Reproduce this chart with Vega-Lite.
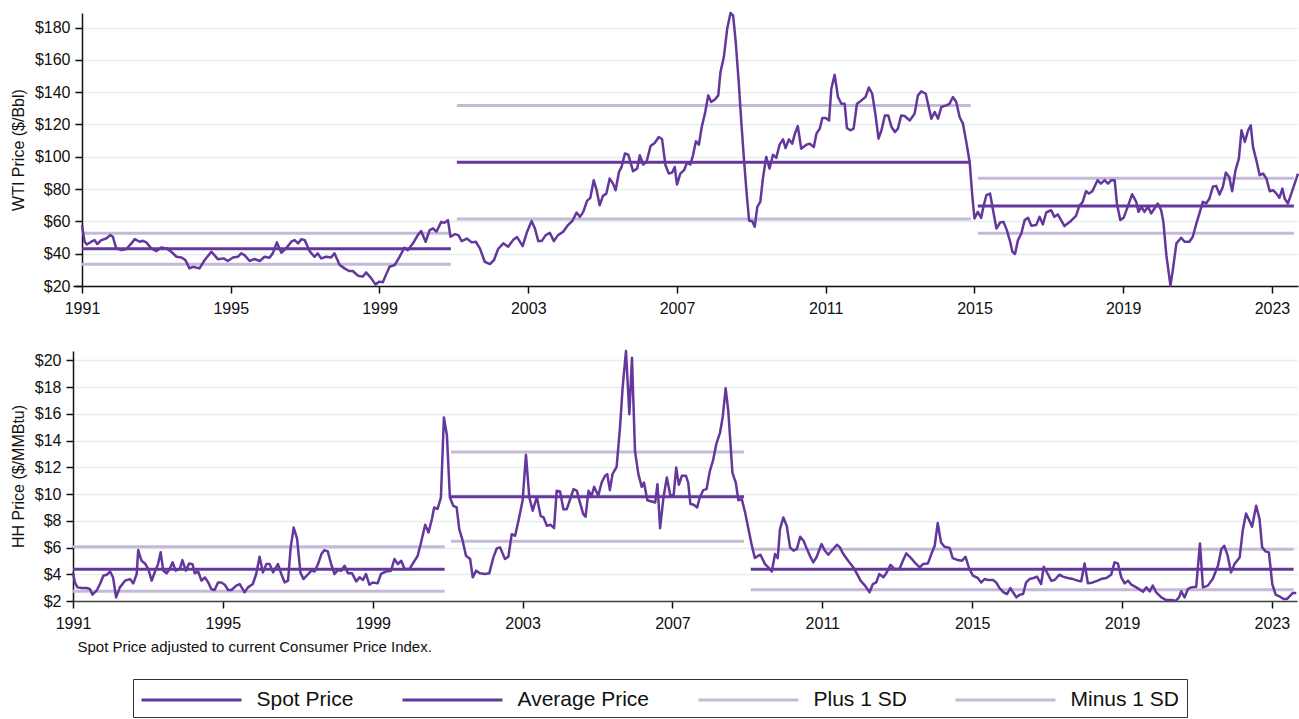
{
  "$schema": "https://vega.github.io/schema/vega-lite/v6.json",
  "padding": {"left": 10, "top": 11, "right": 1, "bottom": 0},
  "background": "white",
  "spacing": 33,
  "config": {
    "font": "Liberation Sans",
    "view": {"stroke": null},
    "axis": {"labelFont": "Liberation Sans", "titleFont": "Liberation Sans", "labelFontSize": 16, "titleFontSize": 16, "titleFontWeight": "normal", "labelColor": "#111", "titleColor": "#111", "tickColor": "#111", "domainColor": "#111", "tickSize": 7, "tickWidth": 1.5, "domainWidth": 1.5, "labelOverlap": false},
    "axisY": {"gridColor": "#e3eeee", "gridWidth": 1.5, "labelPadding": 5},
    "axisX": {"grid": false, "labelPadding": 7, "labelFlush": false},
    "legend": {"orient": "none", "legendX": 60, "legendY": 666, "direction": "horizontal", "columns": 4, "symbolType": "M-4,0H4", "symbolSize": 625, "symbolStrokeWidth": 3, "symbolOffset": 37.5, "labelOffset": 51, "columnPadding": 42, "labelFontSize": 21, "labelFont": "Liberation Sans", "labelColor": "#111", "padding": 7, "strokeColor": "#333", "title": null}
  },
  "datasets": {
    "stats": [
      {"p":"WTI","s":"Average Price","t0":1991.0,"t1":2000.92,"v":43.1},
      {"p":"WTI","s":"Plus 1 SD","t0":1991.0,"t1":2000.92,"v":52.7},
      {"p":"WTI","s":"Minus 1 SD","t0":1991.0,"t1":2000.92,"v":33.5},
      {"p":"WTI","s":"Average Price","t0":2001.08,"t1":2014.9,"v":96.6},
      {"p":"WTI","s":"Plus 1 SD","t0":2001.08,"t1":2014.9,"v":131.8},
      {"p":"WTI","s":"Minus 1 SD","t0":2001.08,"t1":2014.9,"v":61.4},
      {"p":"WTI","s":"Average Price","t0":2015.09,"t1":2023.59,"v":69.6},
      {"p":"WTI","s":"Plus 1 SD","t0":2015.09,"t1":2023.59,"v":86.7},
      {"p":"WTI","s":"Minus 1 SD","t0":2015.09,"t1":2023.59,"v":52.7},
      {"p":"HH","s":"Average Price","t0":1991.0,"t1":2000.92,"v":4.37},
      {"p":"HH","s":"Plus 1 SD","t0":1991.0,"t1":2000.92,"v":6.06},
      {"p":"HH","s":"Minus 1 SD","t0":1991.0,"t1":2000.92,"v":2.72},
      {"p":"HH","s":"Average Price","t0":2001.09,"t1":2008.91,"v":9.79},
      {"p":"HH","s":"Plus 1 SD","t0":2001.09,"t1":2008.91,"v":13.15},
      {"p":"HH","s":"Minus 1 SD","t0":2001.09,"t1":2008.91,"v":6.46},
      {"p":"HH","s":"Average Price","t0":2009.09,"t1":2023.58,"v":4.37},
      {"p":"HH","s":"Plus 1 SD","t0":2009.09,"t1":2023.58,"v":5.88},
      {"p":"HH","s":"Minus 1 SD","t0":2009.09,"t1":2023.58,"v":2.84}
    ],
    "wti": [
      {"t":1991.00,"v":57.7},{"t":1991.07,"v":47.4},{"t":1991.13,"v":45.7},{"t":1991.25,"v":47.4},{"t":1991.34,"v":48.4},{"t":1991.41,"v":46.0},{"t":1991.52,"v":48.4},{"t":1991.65,"v":49.4},{"t":1991.76,"v":51.5},{"t":1991.83,"v":50.5},{"t":1991.92,"v":43.3},
      {"t":1992.06,"v":42.2},{"t":1992.19,"v":42.9},{"t":1992.33,"v":46.4},{"t":1992.42,"v":49.0},{"t":1992.55,"v":47.4},{"t":1992.64,"v":48.0},{"t":1992.73,"v":47.0},{"t":1992.86,"v":43.3},
      {"t":1993.00,"v":41.6},{"t":1993.13,"v":43.9},{"t":1993.27,"v":43.3},{"t":1993.40,"v":41.2},{"t":1993.54,"v":38.1},{"t":1993.67,"v":37.7},{"t":1993.78,"v":36.1},{"t":1993.89,"v":30.9},{"t":1993.98,"v":31.9},
      {"t":1994.16,"v":30.9},{"t":1994.30,"v":36.1},{"t":1994.48,"v":41.2},{"t":1994.66,"v":36.5},{"t":1994.81,"v":37.1},{"t":1994.92,"v":35.5},
      {"t":1995.06,"v":37.7},{"t":1995.19,"v":38.1},{"t":1995.28,"v":40.2},{"t":1995.37,"v":39.1},{"t":1995.51,"v":35.5},{"t":1995.64,"v":36.7},{"t":1995.78,"v":35.5},{"t":1995.91,"v":38.1},
      {"t":1996.04,"v":37.5},{"t":1996.13,"v":40.2},{"t":1996.24,"v":47.0},{"t":1996.36,"v":40.6},{"t":1996.49,"v":43.3},{"t":1996.63,"v":47.4},{"t":1996.72,"v":48.4},{"t":1996.81,"v":46.4},{"t":1996.90,"v":49.0},{"t":1996.99,"v":48.4},
      {"t":1997.12,"v":41.6},{"t":1997.25,"v":38.1},{"t":1997.34,"v":40.2},{"t":1997.43,"v":37.1},{"t":1997.57,"v":38.1},{"t":1997.70,"v":37.7},{"t":1997.79,"v":40.2},{"t":1997.93,"v":33.0},
      {"t":1998.06,"v":30.9},{"t":1998.18,"v":29.3},{"t":1998.28,"v":29.3},{"t":1998.42,"v":26.4},{"t":1998.55,"v":25.8},{"t":1998.64,"v":28.4},{"t":1998.78,"v":24.7},{"t":1998.89,"v":21.0},
      {"t":1999.00,"v":22.7},{"t":1999.09,"v":22.3},{"t":1999.18,"v":27.2},{"t":1999.27,"v":31.9},{"t":1999.41,"v":33.0},{"t":1999.54,"v":38.1},{"t":1999.67,"v":43.7},{"t":1999.76,"v":42.2},{"t":1999.90,"v":46.4},
      {"t":2000.03,"v":51.5},{"t":2000.12,"v":54.0},{"t":2000.24,"v":47.4},{"t":2000.35,"v":54.6},{"t":2000.44,"v":55.6},{"t":2000.53,"v":53.6},{"t":2000.66,"v":59.7},{"t":2000.75,"v":59.1},{"t":2000.84,"v":60.8},{"t":2000.91,"v":50.5},
      {"t":2001.03,"v":52.1},{"t":2001.12,"v":51.5},{"t":2001.21,"v":47.8},{"t":2001.35,"v":49.4},{"t":2001.48,"v":47.0},{"t":2001.59,"v":47.4},{"t":2001.70,"v":43.3},{"t":2001.83,"v":35.0},{"t":2001.97,"v":33.6},
      {"t":2002.08,"v":36.1},{"t":2002.19,"v":42.9},{"t":2002.33,"v":46.4},{"t":2002.46,"v":44.3},{"t":2002.59,"v":48.4},{"t":2002.70,"v":50.3},{"t":2002.85,"v":44.7},{"t":2002.97,"v":53.6},
      {"t":2003.09,"v":60.2},{"t":2003.18,"v":55.6},{"t":2003.27,"v":47.8},{"t":2003.36,"v":47.8},{"t":2003.47,"v":51.5},{"t":2003.58,"v":52.9},{"t":2003.69,"v":47.8},{"t":2003.80,"v":51.5},{"t":2003.94,"v":53.6},
      {"t":2004.07,"v":57.7},{"t":2004.19,"v":60.4},{"t":2004.30,"v":65.5},{"t":2004.39,"v":62.8},{"t":2004.48,"v":65.9},{"t":2004.58,"v":72.7},{"t":2004.67,"v":74.6},{"t":2004.76,"v":85.5},{"t":2004.84,"v":79.3},{"t":2004.92,"v":70.0},
      {"t":2005.01,"v":75.8},{"t":2005.10,"v":77.2},{"t":2005.19,"v":86.5},{"t":2005.28,"v":83.4},{"t":2005.35,"v":79.3},{"t":2005.44,"v":90.6},{"t":2005.51,"v":93.7},{"t":2005.60,"v":102.0},{"t":2005.69,"v":101.3},{"t":2005.82,"v":91.0},{"t":2005.93,"v":92.7},
      {"t":2006.00,"v":100.9},{"t":2006.09,"v":95.2},{"t":2006.18,"v":96.8},{"t":2006.29,"v":106.7},{"t":2006.40,"v":108.5},{"t":2006.51,"v":112.2},{"t":2006.60,"v":110.8},{"t":2006.69,"v":94.7},{"t":2006.78,"v":89.6},{"t":2006.87,"v":90.2},{"t":2006.94,"v":93.7},
      {"t":2007.00,"v":82.8},{"t":2007.09,"v":89.6},{"t":2007.19,"v":91.7},{"t":2007.27,"v":96.4},{"t":2007.36,"v":95.2},{"t":2007.43,"v":100.9},{"t":2007.51,"v":109.6},{"t":2007.59,"v":107.5},{"t":2007.66,"v":117.8},{"t":2007.76,"v":127.7},{"t":2007.84,"v":138.0},{"t":2007.92,"v":133.9},
      {"t":2008.02,"v":135.5},{"t":2008.11,"v":138.0},{"t":2008.17,"v":152.4},{"t":2008.26,"v":161.7},{"t":2008.35,"v":179.2},{"t":2008.44,"v":189.0},{"t":2008.51,"v":187.4},{"t":2008.58,"v":170.9},{"t":2008.66,"v":146.2},{"t":2008.73,"v":121.5},{"t":2008.80,"v":98.9},{"t":2008.87,"v":78.3},{"t":2008.94,"v":60.4},
      {"t":2009.02,"v":60.2},{"t":2009.09,"v":56.7},{"t":2009.16,"v":69.0},{"t":2009.24,"v":72.1},{"t":2009.31,"v":86.5},{"t":2009.40,"v":99.9},{"t":2009.49,"v":92.7},{"t":2009.58,"v":101.3},{"t":2009.67,"v":99.3},{"t":2009.76,"v":107.5},{"t":2009.85,"v":110.8},{"t":2009.92,"v":105.4},
      {"t":2010.01,"v":110.8},{"t":2010.10,"v":108.1},{"t":2010.17,"v":114.3},{"t":2010.25,"v":119.0},{"t":2010.34,"v":105.0},{"t":2010.48,"v":107.5},{"t":2010.57,"v":108.1},{"t":2010.68,"v":106.1},{"t":2010.75,"v":114.3},{"t":2010.84,"v":117.4},{"t":2010.91,"v":124.0},
      {"t":2011.00,"v":124.0},{"t":2011.09,"v":122.5},{"t":2011.15,"v":142.1},{"t":2011.24,"v":150.7},{"t":2011.33,"v":137.0},{"t":2011.42,"v":132.8},{"t":2011.51,"v":132.8},{"t":2011.57,"v":117.8},{"t":2011.66,"v":116.4},{"t":2011.75,"v":117.4},{"t":2011.84,"v":132.8},{"t":2011.96,"v":134.9},
      {"t":2012.07,"v":137.0},{"t":2012.16,"v":142.9},{"t":2012.25,"v":139.0},{"t":2012.34,"v":125.6},{"t":2012.42,"v":111.2},{"t":2012.50,"v":116.4},{"t":2012.59,"v":125.6},{"t":2012.68,"v":125.6},{"t":2012.77,"v":118.4},{"t":2012.86,"v":115.3},{"t":2012.94,"v":117.4},
      {"t":2013.03,"v":125.6},{"t":2013.12,"v":125.2},{"t":2013.26,"v":122.5},{"t":2013.39,"v":126.7},{"t":2013.48,"v":138.0},{"t":2013.57,"v":140.5},{"t":2013.69,"v":139.0},{"t":2013.84,"v":123.6},{"t":2013.93,"v":127.7},
      {"t":2014.02,"v":123.6},{"t":2014.11,"v":130.8},{"t":2014.24,"v":131.8},{"t":2014.33,"v":132.8},{"t":2014.42,"v":137.0},{"t":2014.51,"v":133.9},{"t":2014.60,"v":124.6},{"t":2014.69,"v":120.5},{"t":2014.78,"v":109.2},{"t":2014.87,"v":96.8},{"t":2014.94,"v":76.2},
      {"t":2015.00,"v":61.8},{"t":2015.09,"v":65.9},{"t":2015.18,"v":62.2},{"t":2015.24,"v":69.0},{"t":2015.32,"v":76.2},{"t":2015.42,"v":77.2},{"t":2015.50,"v":66.9},{"t":2015.59,"v":55.6},{"t":2015.69,"v":59.3},{"t":2015.78,"v":59.7},{"t":2015.87,"v":54.6},{"t":2015.96,"v":47.4},
      {"t":2016.02,"v":41.2},{"t":2016.09,"v":39.8},{"t":2016.17,"v":48.4},{"t":2016.26,"v":52.5},{"t":2016.35,"v":60.8},{"t":2016.44,"v":62.2},{"t":2016.53,"v":57.3},{"t":2016.66,"v":57.7},{"t":2016.75,"v":62.8},{"t":2016.84,"v":58.1},{"t":2016.93,"v":65.5},
      {"t":2017.06,"v":66.9},{"t":2017.15,"v":62.8},{"t":2017.24,"v":64.3},{"t":2017.42,"v":57.1},{"t":2017.60,"v":60.4},{"t":2017.73,"v":63.4},{"t":2017.82,"v":69.6},{"t":2017.91,"v":72.1},
      {"t":2018.00,"v":78.7},{"t":2018.08,"v":77.2},{"t":2018.17,"v":78.7},{"t":2018.31,"v":85.5},{"t":2018.40,"v":83.4},{"t":2018.50,"v":85.5},{"t":2018.59,"v":83.4},{"t":2018.68,"v":85.5},{"t":2018.77,"v":85.5},{"t":2018.83,"v":71.1},{"t":2018.92,"v":60.8},
      {"t":2019.01,"v":62.2},{"t":2019.13,"v":69.6},{"t":2019.24,"v":76.8},{"t":2019.35,"v":72.1},{"t":2019.41,"v":65.9},{"t":2019.49,"v":69.0},{"t":2019.57,"v":65.9},{"t":2019.67,"v":69.0},{"t":2019.75,"v":64.9},{"t":2019.84,"v":68.0},{"t":2019.93,"v":71.1},
      {"t":2020.02,"v":66.9},{"t":2020.08,"v":59.7},{"t":2020.16,"v":39.1},{"t":2020.27,"v":20.2},{"t":2020.34,"v":30.9},{"t":2020.43,"v":46.4},{"t":2020.56,"v":49.9},{"t":2020.65,"v":47.4},{"t":2020.78,"v":47.4},{"t":2020.87,"v":50.5},{"t":2020.96,"v":58.1},
      {"t":2021.05,"v":64.9},{"t":2021.14,"v":72.1},{"t":2021.23,"v":71.1},{"t":2021.32,"v":74.2},{"t":2021.41,"v":81.4},{"t":2021.50,"v":82.0},{"t":2021.59,"v":76.6},{"t":2021.68,"v":81.4},{"t":2021.76,"v":90.2},{"t":2021.85,"v":87.5},{"t":2021.93,"v":78.7},
      {"t":2022.02,"v":91.7},{"t":2022.11,"v":98.9},{"t":2022.18,"v":116.4},{"t":2022.27,"v":109.2},{"t":2022.36,"v":116.4},{"t":2022.43,"v":119.4},{"t":2022.49,"v":106.1},{"t":2022.58,"v":97.8},{"t":2022.67,"v":88.6},{"t":2022.76,"v":89.6},{"t":2022.85,"v":86.5},{"t":2022.94,"v":78.7},
      {"t":2023.03,"v":79.3},{"t":2023.12,"v":77.2},{"t":2023.20,"v":74.6},{"t":2023.28,"v":80.3},{"t":2023.34,"v":74.2},{"t":2023.43,"v":71.1},{"t":2023.52,"v":77.2},{"t":2023.61,"v":83.4},{"t":2023.70,"v":89.6}
    ],
    "hh": [
      {"t":1991.00,"v":4.14},{"t":1991.05,"v":3.39},{"t":1991.12,"v":3.02},{"t":1991.23,"v":2.97},{"t":1991.36,"v":2.97},{"t":1991.45,"v":2.90},{"t":1991.52,"v":2.47},{"t":1991.63,"v":2.77},{"t":1991.72,"v":3.27},{"t":1991.81,"v":3.89},{"t":1991.90,"v":3.96},{"t":1991.99,"v":4.21},
      {"t":1992.07,"v":3.76},{"t":1992.15,"v":2.27},{"t":1992.25,"v":3.02},{"t":1992.39,"v":3.52},{"t":1992.52,"v":3.64},{"t":1992.61,"v":3.32},{"t":1992.70,"v":4.02},{"t":1992.74,"v":5.81},{"t":1992.83,"v":5.01},{"t":1992.92,"v":4.81},
      {"t":1993.01,"v":4.39},{"t":1993.10,"v":3.52},{"t":1993.18,"v":4.14},{"t":1993.27,"v":4.76},{"t":1993.34,"v":5.64},{"t":1993.41,"v":4.27},{"t":1993.50,"v":4.07},{"t":1993.58,"v":4.39},{"t":1993.66,"v":4.89},{"t":1993.74,"v":4.27},{"t":1993.85,"v":4.39},{"t":1993.92,"v":5.06},
      {"t":1994.01,"v":4.27},{"t":1994.10,"v":4.81},{"t":1994.19,"v":4.76},{"t":1994.25,"v":4.07},{"t":1994.34,"v":4.21},{"t":1994.43,"v":3.52},{"t":1994.52,"v":3.76},{"t":1994.61,"v":3.39},{"t":1994.69,"v":2.90},{"t":1994.78,"v":2.82},{"t":1994.87,"v":3.39},{"t":1994.96,"v":3.39},
      {"t":1995.05,"v":3.22},{"t":1995.14,"v":2.82},{"t":1995.23,"v":2.82},{"t":1995.36,"v":3.15},{"t":1995.45,"v":3.27},{"t":1995.58,"v":2.65},{"t":1995.67,"v":3.02},{"t":1995.80,"v":3.27},{"t":1995.89,"v":4.02},{"t":1995.98,"v":5.31},
      {"t":1996.07,"v":4.14},{"t":1996.16,"v":4.76},{"t":1996.25,"v":4.76},{"t":1996.34,"v":4.14},{"t":1996.47,"v":4.76},{"t":1996.56,"v":4.02},{"t":1996.65,"v":3.39},{"t":1996.74,"v":3.52},{"t":1996.81,"v":6.01},{"t":1996.89,"v":7.49},{"t":1996.98,"v":6.68},
      {"t":1997.07,"v":4.14},{"t":1997.15,"v":3.64},{"t":1997.24,"v":3.89},{"t":1997.36,"v":4.27},{"t":1997.45,"v":4.21},{"t":1997.54,"v":4.76},{"t":1997.63,"v":5.51},{"t":1997.71,"v":5.81},{"t":1997.80,"v":5.71},{"t":1997.89,"v":4.76},{"t":1997.98,"v":4.02},
      {"t":1998.07,"v":4.31},{"t":1998.16,"v":4.27},{"t":1998.25,"v":4.64},{"t":1998.34,"v":4.07},{"t":1998.45,"v":4.07},{"t":1998.56,"v":3.47},{"t":1998.65,"v":3.77},{"t":1998.74,"v":3.57},{"t":1998.82,"v":4.02},{"t":1998.91,"v":3.22},
      {"t":1999.00,"v":3.39},{"t":1999.13,"v":3.32},{"t":1999.22,"v":4.02},{"t":1999.36,"v":4.21},{"t":1999.49,"v":4.27},{"t":1999.58,"v":5.14},{"t":1999.67,"v":4.76},{"t":1999.76,"v":5.01},{"t":1999.85,"v":4.39},{"t":1999.98,"v":4.39},
      {"t":2000.09,"v":4.89},{"t":2000.20,"v":5.38},{"t":2000.29,"v":6.38},{"t":2000.40,"v":7.70},{"t":2000.49,"v":7.13},{"t":2000.58,"v":8.13},{"t":2000.64,"v":9.0},{"t":2000.73,"v":8.88},{"t":2000.82,"v":9.74},{"t":2000.90,"v":15.72},{"t":2000.98,"v":14.4},
      {"t":2001.06,"v":9.74},{"t":2001.15,"v":9.12},{"t":2001.24,"v":9.0},{"t":2001.31,"v":7.38},{"t":2001.40,"v":6.51},{"t":2001.49,"v":5.39},{"t":2001.60,"v":5.14},{"t":2001.67,"v":3.77},{"t":2001.76,"v":4.27},{"t":2001.86,"v":4.07},
      {"t":2002.00,"v":4.02},{"t":2002.11,"v":4.07},{"t":2002.22,"v":5.26},{"t":2002.31,"v":5.93},{"t":2002.40,"v":6.01},{"t":2002.53,"v":5.14},{"t":2002.62,"v":5.31},{"t":2002.71,"v":7.0},{"t":2002.80,"v":6.88},{"t":2002.89,"v":8.0},
      {"t":2003.00,"v":9.49},{"t":2003.09,"v":12.93},{"t":2003.18,"v":9.74},{"t":2003.27,"v":8.75},{"t":2003.38,"v":9.79},{"t":2003.48,"v":8.37},{"t":2003.56,"v":8.25},{"t":2003.65,"v":7.63},{"t":2003.75,"v":7.7},{"t":2003.84,"v":7.45},{"t":2003.91,"v":10.24},
      {"t":2004.00,"v":10.19},{"t":2004.09,"v":8.87},{"t":2004.18,"v":8.87},{"t":2004.27,"v":9.62},{"t":2004.36,"v":10.37},{"t":2004.45,"v":10.24},{"t":2004.53,"v":9.37},{"t":2004.62,"v":8.5},{"t":2004.68,"v":8.3},{"t":2004.76,"v":10.24},{"t":2004.84,"v":9.87},{"t":2004.91,"v":10.54},
      {"t":2005.02,"v":9.87},{"t":2005.11,"v":10.86},{"t":2005.20,"v":11.36},{"t":2005.26,"v":11.49},{"t":2005.33,"v":10.29},{"t":2005.40,"v":11.49},{"t":2005.51,"v":12.03},{"t":2005.60,"v":14.97},{"t":2005.67,"v":17.96},{"t":2005.76,"v":20.7},{"t":2005.85,"v":15.97},{"t":2005.92,"v":20.2},
      {"t":2006.00,"v":13.23},{"t":2006.09,"v":11.49},{"t":2006.18,"v":10.54},{"t":2006.24,"v":10.86},{"t":2006.33,"v":9.54},{"t":2006.45,"v":9.44},{"t":2006.54,"v":9.37},{"t":2006.60,"v":10.74},{"t":2006.67,"v":7.45},{"t":2006.76,"v":9.74},{"t":2006.85,"v":11.24},{"t":2006.94,"v":9.94},
      {"t":2007.03,"v":9.87},{"t":2007.10,"v":11.98},{"t":2007.17,"v":10.69},{"t":2007.25,"v":11.36},{"t":2007.36,"v":11.36},{"t":2007.42,"v":10.86},{"t":2007.48,"v":9.25},{"t":2007.57,"v":9.2},{"t":2007.66,"v":9.0},{"t":2007.73,"v":9.74},{"t":2007.82,"v":10.29},{"t":2007.91,"v":10.37},
      {"t":2008.00,"v":11.74},{"t":2008.08,"v":12.48},{"t":2008.17,"v":13.73},{"t":2008.27,"v":14.6},{"t":2008.34,"v":15.72},{"t":2008.42,"v":17.91},{"t":2008.49,"v":16.22},{"t":2008.55,"v":13.73},{"t":2008.60,"v":11.61},{"t":2008.69,"v":10.86},{"t":2008.76,"v":9.54},{"t":2008.85,"v":9.62},{"t":2008.94,"v":8.62},
      {"t":2009.02,"v":7.5},{"t":2009.11,"v":6.26},{"t":2009.20,"v":5.21},{"t":2009.29,"v":5.39},{"t":2009.35,"v":5.46},{"t":2009.47,"v":4.76},{"t":2009.56,"v":4.51},{"t":2009.65,"v":4.21},{"t":2009.74,"v":5.51},{"t":2009.81,"v":5.21},{"t":2009.87,"v":7.38},{"t":2009.96,"v":8.25},
      {"t":2010.05,"v":7.63},{"t":2010.14,"v":6.01},{"t":2010.23,"v":5.76},{"t":2010.32,"v":5.88},{"t":2010.41,"v":6.81},{"t":2010.50,"v":6.51},{"t":2010.59,"v":5.88},{"t":2010.69,"v":5.26},{"t":2010.76,"v":4.89},{"t":2010.85,"v":5.31},{"t":2010.98,"v":6.26},
      {"t":2011.07,"v":5.76},{"t":2011.16,"v":5.46},{"t":2011.25,"v":5.76},{"t":2011.39,"v":6.21},{"t":2011.47,"v":6.01},{"t":2011.56,"v":5.51},{"t":2011.69,"v":5.01},{"t":2011.83,"v":4.51},{"t":2011.92,"v":4.07},
      {"t":2012.02,"v":3.52},{"t":2012.14,"v":3.15},{"t":2012.26,"v":2.65},{"t":2012.35,"v":3.27},{"t":2012.44,"v":3.39},{"t":2012.52,"v":4.02},{"t":2012.63,"v":3.77},{"t":2012.71,"v":4.1},{"t":2012.82,"v":4.7},{"t":2012.93,"v":4.39},
      {"t":2013.06,"v":4.39},{"t":2013.15,"v":5.01},{"t":2013.24,"v":5.56},{"t":2013.37,"v":5.21},{"t":2013.49,"v":4.81},{"t":2013.60,"v":4.51},{"t":2013.69,"v":4.76},{"t":2013.82,"v":4.81},{"t":2013.91,"v":5.51},
      {"t":2014.00,"v":6.13},{"t":2014.08,"v":7.83},{"t":2014.17,"v":6.38},{"t":2014.26,"v":6.06},{"t":2014.40,"v":5.96},{"t":2014.48,"v":5.21},{"t":2014.62,"v":5.06},{"t":2014.73,"v":5.01},{"t":2014.82,"v":5.31},{"t":2014.91,"v":4.51},
      {"t":2015.02,"v":3.89},{"t":2015.15,"v":3.72},{"t":2015.24,"v":3.39},{"t":2015.33,"v":3.64},{"t":2015.42,"v":3.57},{"t":2015.56,"v":3.57},{"t":2015.64,"v":3.39},{"t":2015.73,"v":2.97},{"t":2015.84,"v":2.65},{"t":2015.93,"v":2.52},
      {"t":2016.02,"v":2.97},{"t":2016.09,"v":2.65},{"t":2016.18,"v":2.27},{"t":2016.27,"v":2.47},{"t":2016.36,"v":2.52},{"t":2016.44,"v":3.39},{"t":2016.53,"v":3.64},{"t":2016.64,"v":3.72},{"t":2016.73,"v":3.82},{"t":2016.84,"v":3.27},{"t":2016.91,"v":4.56},
      {"t":2017.02,"v":4.02},{"t":2017.11,"v":3.52},{"t":2017.20,"v":3.57},{"t":2017.33,"v":3.97},{"t":2017.42,"v":3.82},{"t":2017.55,"v":3.72},{"t":2017.69,"v":3.64},{"t":2017.82,"v":3.52},{"t":2017.91,"v":3.47},
      {"t":2018.00,"v":4.81},{"t":2018.09,"v":3.32},{"t":2018.22,"v":3.39},{"t":2018.35,"v":3.52},{"t":2018.44,"v":3.64},{"t":2018.58,"v":3.72},{"t":2018.71,"v":3.97},{"t":2018.80,"v":4.89},{"t":2018.89,"v":4.81},{"t":2018.98,"v":3.77},
      {"t":2019.07,"v":3.32},{"t":2019.16,"v":3.52},{"t":2019.25,"v":3.22},{"t":2019.38,"v":3.02},{"t":2019.56,"v":2.70},{"t":2019.65,"v":3.02},{"t":2019.74,"v":2.72},{"t":2019.82,"v":3.15},{"t":2019.91,"v":2.65},
      {"t":2020.05,"v":2.27},{"t":2020.18,"v":2.07},{"t":2020.34,"v":2.07},{"t":2020.43,"v":2.0},{"t":2020.52,"v":2.27},{"t":2020.58,"v":2.72},{"t":2020.67,"v":2.27},{"t":2020.76,"v":2.9},{"t":2020.85,"v":3.02},{"t":2020.98,"v":3.07},
      {"t":2021.08,"v":6.31},{"t":2021.16,"v":3.02},{"t":2021.29,"v":3.15},{"t":2021.42,"v":3.64},{"t":2021.56,"v":4.64},{"t":2021.65,"v":5.88},{"t":2021.73,"v":6.13},{"t":2021.82,"v":5.39},{"t":2021.91,"v":4.14},
      {"t":2022.00,"v":4.76},{"t":2022.14,"v":5.26},{"t":2022.22,"v":7.25},{"t":2022.31,"v":8.55},{"t":2022.40,"v":8.0},{"t":2022.47,"v":7.55},{"t":2022.58,"v":9.12},{"t":2022.67,"v":8.13},{"t":2022.74,"v":6.01},{"t":2022.83,"v":5.71},{"t":2022.92,"v":5.64},
      {"t":2023.01,"v":3.27},{"t":2023.10,"v":2.47},{"t":2023.20,"v":2.35},{"t":2023.31,"v":2.15},{"t":2023.40,"v":2.15},{"t":2023.49,"v":2.4},{"t":2023.56,"v":2.6},{"t":2023.65,"v":2.6}
    ]
  },
  "vconcat": [
    {
      "width": 1225,
      "height": 273,
      "layer": [
        {
          "data": {"name": "stats"},
          "transform": [{"filter": "datum.p == 'WTI'"}],
          "mark": {"type": "rule", "strokeWidth": 3, "strokeCap": "butt"},
          "encoding": {
            "x": {"field": "t0", "type": "quantitative", "scale": {"domain": [1990.758, 2023.7], "nice": false, "zero": false},
                  "axis": {"title": null, "tickCount": 40, "values": [1991, 1995, 1999, 2003, 2007, 2011, 2015, 2019, 2023], "format": "d"}},
            "x2": {"field": "t1"},
            "y": {"field": "v", "type": "quantitative", "scale": {"domain": [20, 189], "nice": false, "zero": false},
                  "axis": {"title": "WTI Price ($/Bbl)", "titlePadding": 8, "offset": -9, "labelOverlap": false, "tickCount": 30, "values": [20, 40, 60, 80, 100, 120, 140, 160, 180], "labelExpr": "'$' + datum.value"}},
            "color": {"field": "s", "type": "nominal",
                      "scale": {"domain": ["Spot Price", "Average Price", "Plus 1 SD", "Minus 1 SD"], "range": ["#63379b", "#63379b", "#c4bad8", "#c4bad8"]},
                      "legend": {"title": null}}
          }
        },
        {
          "data": {"name": "wti"},
          "mark": {"type": "line", "strokeWidth": 2.5, "strokeJoin": "round"},
          "encoding": {
            "x": {"field": "t", "type": "quantitative"},
            "y": {"field": "v", "type": "quantitative"},
            "color": {"datum": "Spot Price"}
          }
        }
      ]
    },
    {
      "width": 1224,
      "height": 250,
      "layer": [
        {
          "data": {"name": "stats"},
          "transform": [{"filter": "datum.p == 'HH'"}],
          "mark": {"type": "rule", "strokeWidth": 3, "strokeCap": "butt"},
          "encoding": {
            "x": {"field": "t0", "type": "quantitative", "scale": {"domain": [1991, 2023.67], "nice": false, "zero": false},
                  "axis": {"title": "Spot Price adjusted to current Consumer Price Index.", "titleFontSize": 15, "titleAnchor": "start", "titleAlign": "left", "titleX": 4, "titleY": 50, "titleBaseline": "alphabetic", "tickCount": 40, "values": [1991, 1995, 1999, 2003, 2007, 2011, 2015, 2019, 2023], "format": "d", "domainColor": "#444"}},
            "x2": {"field": "t1"},
            "y": {"field": "v", "type": "quantitative", "scale": {"domain": [2, 20.7], "nice": false, "zero": false},
                  "axis": {"title": "HH Price ($/MMBtu)", "titlePadding": 8, "labelOverlap": false, "tickCount": 30, "values": [2, 4, 6, 8, 10, 12, 14, 16, 18, 20], "labelExpr": "'$' + datum.value"}},
            "color": {"field": "s", "type": "nominal",
                      "scale": {"domain": ["Spot Price", "Average Price", "Plus 1 SD", "Minus 1 SD"], "range": ["#63379b", "#63379b", "#c4bad8", "#c4bad8"]},
                      "legend": {"title": null}}
          }
        },
        {
          "data": {"name": "hh"},
          "mark": {"type": "line", "strokeWidth": 2.5, "strokeJoin": "round"},
          "encoding": {
            "x": {"field": "t", "type": "quantitative"},
            "y": {"field": "v", "type": "quantitative"},
            "color": {"datum": "Spot Price"}
          }
        }
      ]
    }
  ]
}
